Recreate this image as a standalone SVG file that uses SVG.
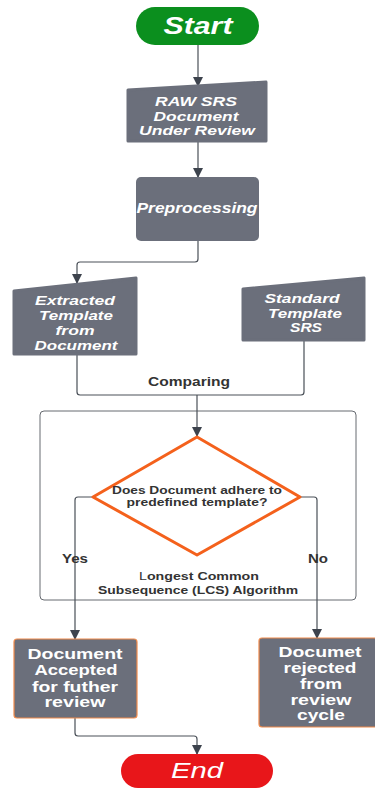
<svg xmlns="http://www.w3.org/2000/svg" width="375" height="788" viewBox="0 0 375 788">
<defs>
<marker id="ah" markerWidth="10" markerHeight="10" refX="9" refY="5" orient="auto" markerUnits="userSpaceOnUse">
<path d="M0,0 L10,5 L0,10 Z" fill="#3d434d"/>
</marker>
<style>
.ln{fill:none;stroke:#4a5058;stroke-width:1.2;stroke-linejoin:round}
.box{fill:#6b6f7b;stroke:#6b6f7b;stroke-width:3;stroke-linejoin:round}
.obox{fill:#6b6f7b;stroke:#f08a4b;stroke-width:1.2}
.wt{fill:#ffffff;font-family:"Liberation Sans",Arial,sans-serif;font-weight:bold;text-anchor:middle}
.it{font-style:italic}
.dk{fill:#333333;font-family:"Liberation Sans",Arial,sans-serif;font-weight:bold;text-anchor:middle}
</style>
</defs>
<rect width="375" height="788" fill="#ffffff"/>

<g id="container">
<rect x="40" y="411" width="316" height="189" rx="4" fill="none" stroke="#666a70" stroke-width="1"/>
</g>

<g id="connectors">
<path class="ln" d="M198,45 V86" marker-end="url(#ah)"/>
<path class="ln" d="M198,142 V177" marker-end="url(#ah)"/>
<path class="ln" d="M198,241 V259 Q198,262 195,262 H80 Q77,262 77,265 V283" marker-end="url(#ah)"/>
<path class="ln" d="M77,355 V392 Q77,395 80,395 H301 Q304,395 304,392 V341"/>
<path class="ln" d="M197,395 V436" marker-end="url(#ah)"/>
<path class="ln" d="M93,497 H78 Q75,497 75,500 V639" marker-end="url(#ah)"/>
<path class="ln" d="M300,497 H314 Q317,497 317,500 V638" marker-end="url(#ah)"/>
<path class="ln" d="M75,718 V733 Q75,736 78,736 H194 Q197,736 197,739 V754" marker-end="url(#ah)"/>
<text class="dk" x="189" y="386" font-size="12" textLength="82" lengthAdjust="spacingAndGlyphs">Comparing</text>
<text class="dk" x="75" y="563" font-size="12" fill="#444" textLength="26" lengthAdjust="spacingAndGlyphs">Yes</text>
<text class="dk" x="318" y="563" font-size="12" fill="#444" textLength="20" lengthAdjust="spacingAndGlyphs">No</text>
</g>

<g id="start">
<rect x="136" y="7" width="123" height="38" rx="19" fill="#0b8f1e"/>
<text class="wt it" x="198" y="34" font-size="23" textLength="69" lengthAdjust="spacingAndGlyphs">Start</text>
</g>

<g id="raw-srs">
<path class="box" d="M128,90 L266,82 L266,141 L128,141 Z"/>
<text class="wt it" x="196" y="106" font-size="13.5" textLength="82" lengthAdjust="spacingAndGlyphs">RAW SRS</text>
<text class="wt it" x="196" y="121" font-size="13.5" textLength="85" lengthAdjust="spacingAndGlyphs">Document</text>
<text class="wt it" x="197" y="135" font-size="13.5" textLength="116" lengthAdjust="spacingAndGlyphs">Under Review</text>
</g>

<g id="preprocessing">
<rect x="136" y="177" width="123" height="64" rx="5" fill="#6b6f7b"/>
<text class="wt it" x="197" y="213" font-size="14" textLength="121" lengthAdjust="spacingAndGlyphs">Preprocessing</text>
</g>

<g id="extracted">
<path class="box" d="M14,291 L136,278 L136,354 L14,354 Z"/>
<text class="wt it" x="75" y="305" font-size="13.5" textLength="80" lengthAdjust="spacingAndGlyphs">Extracted</text>
<text class="wt it" x="76" y="320" font-size="13.5" textLength="74" lengthAdjust="spacingAndGlyphs">Template</text>
<text class="wt it" x="75" y="335" font-size="13.5" textLength="39" lengthAdjust="spacingAndGlyphs">from</text>
<text class="wt it" x="76" y="350" font-size="13.5" textLength="83" lengthAdjust="spacingAndGlyphs">Document</text>
</g>

<g id="standard">
<path class="box" d="M243,289 L364,278 L364,340 L243,340 Z"/>
<text class="wt it" x="302" y="303" font-size="13.5" textLength="75" lengthAdjust="spacingAndGlyphs">Standard</text>
<text class="wt it" x="305" y="318" font-size="13.5" textLength="74" lengthAdjust="spacingAndGlyphs">Template</text>
<text class="wt it" x="306" y="332" font-size="13.5" textLength="32" lengthAdjust="spacingAndGlyphs">SRS</text>
</g>

<g id="decision">
<path d="M197,437 L300,497 L197,555 L93,497 Z" fill="#ffffff" stroke="#f4611c" stroke-width="3" stroke-linejoin="round"/>
<text class="dk" x="197" y="494" font-size="11" textLength="170" lengthAdjust="spacingAndGlyphs">Does Document adhere to</text>
<text class="dk" x="197" y="506" font-size="11" textLength="141" lengthAdjust="spacingAndGlyphs">predefined template?</text>
</g>

<g id="lcs-label">
<text class="dk" x="199" y="580" font-size="11.5" fill="#111" textLength="120" lengthAdjust="spacingAndGlyphs"><tspan font-weight="normal">L</tspan>ongest Common</text>
<text class="dk" x="198" y="594" font-size="11.5" fill="#111" textLength="200" lengthAdjust="spacingAndGlyphs">Subsequence (LCS) Algorithm</text>
</g>

<g id="accepted">
<rect class="obox" x="14" y="639" width="123" height="79" rx="3"/>
<text class="wt" x="75" y="659" font-size="14.5" textLength="95" lengthAdjust="spacingAndGlyphs">Document</text>
<text class="wt" x="76" y="675" font-size="14.5" textLength="83" lengthAdjust="spacingAndGlyphs">Accepted</text>
<text class="wt" x="75" y="692" font-size="14.5" textLength="86" lengthAdjust="spacingAndGlyphs">for futher</text>
<text class="wt" x="75" y="707" font-size="14.5" textLength="61" lengthAdjust="spacingAndGlyphs">review</text>
</g>

<g id="rejected">
<rect class="obox" x="259" y="638" width="118" height="89" rx="3"/>
<text class="wt" x="320" y="657" font-size="14.5" textLength="83" lengthAdjust="spacingAndGlyphs">Documet</text>
<text class="wt" x="320" y="673" font-size="14.5" textLength="73" lengthAdjust="spacingAndGlyphs">rejected</text>
<text class="wt" x="321" y="689" font-size="14.5" textLength="42" lengthAdjust="spacingAndGlyphs">from</text>
<text class="wt" x="321" y="705" font-size="14.5" textLength="61" lengthAdjust="spacingAndGlyphs">review</text>
<text class="wt" x="321" y="720" font-size="14.5" textLength="48" lengthAdjust="spacingAndGlyphs">cycle</text>
</g>

<g id="end">
<rect x="121" y="754" width="152" height="34" rx="17" fill="#e8161a"/>
<text class="wt it" x="197" y="778" font-size="22" font-weight="normal" style="font-weight:normal" textLength="52" lengthAdjust="spacingAndGlyphs">End</text>
</g>
</svg>
